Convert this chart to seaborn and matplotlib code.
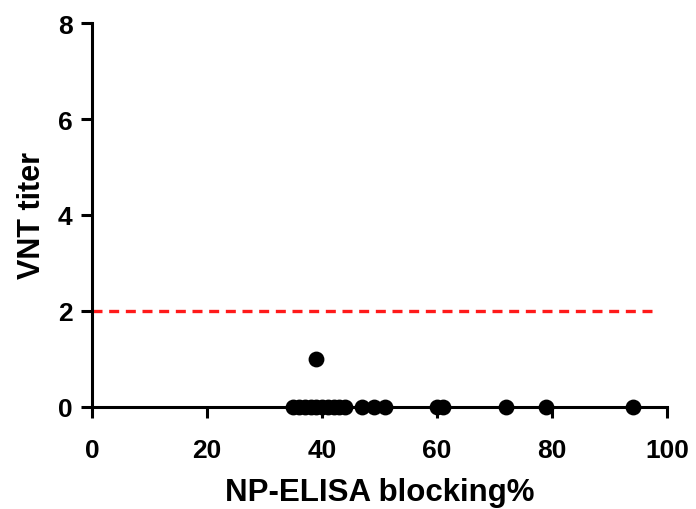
import matplotlib
matplotlib.use("Agg")
import matplotlib.pyplot as plt
import seaborn as sns
import pandas as pd

blocking = [35, 36, 37, 38, 39, 40, 41, 42, 43, 44, 47, 49, 51, 60, 61, 72, 79, 94, 39]
titer = [0, 0, 0, 0, 0, 0, 0, 0, 0, 0, 0, 0, 0, 0, 0, 0, 0, 0, 1]
cutoff = 2
xticks = [0, 20, 40, 60, 80, 100]
yticks = [0, 2, 4, 6, 8]

sns.set_style("ticks")
plt.rcParams['font.family'] = ['Liberation Sans', 'DejaVu Sans']
plt.rcParams['font.weight'] = 'bold'
plt.rcParams['text.color'] = 'black'
plt.rcParams['axes.labelcolor'] = 'black'

df = pd.DataFrame({"x": blocking, "y": titer})
fig = plt.figure(figsize=(6.96, 5.10), dpi=100)
ax = fig.add_axes([92/696, 102/510, 575/696, 384/510])

ax.plot([0, 98.5], [cutoff, cutoff], color="#ff1a1a", linestyle=(0, (3, 2)), lw=2.4, zorder=2)
sns.scatterplot(data=df, x="x", y="y", ax=ax, color="black", s=130, edgecolor="black",
                linewidth=0, clip_on=False, zorder=3, legend=False)

ax.set_xlim(0, 100)
ax.set_ylim(0, 8)
ax.set_xticks(xticks)
ax.set_yticks(yticks)
for s in ["top", "right"]:
    ax.spines[s].set_visible(False)
for s in ["left", "bottom"]:
    ax.spines[s].set_linewidth(2.2)
    ax.spines[s].set_color("black")
ax.tick_params(axis="both", width=2.2, length=8, labelsize=19, colors="black", pad=6)
ax.tick_params(axis="x", pad=14)
for lab in ax.get_xticklabels() + ax.get_yticklabels():
    lab.set_fontweight("bold")
ax.set_xlabel("NP-ELISA blocking%", fontsize=22.5, fontweight="bold", labelpad=11, color="black")
ax.set_ylabel("VNT titer", fontsize=22, fontweight="bold", labelpad=8, color="black")

fig.savefig("out.png", dpi=100)
